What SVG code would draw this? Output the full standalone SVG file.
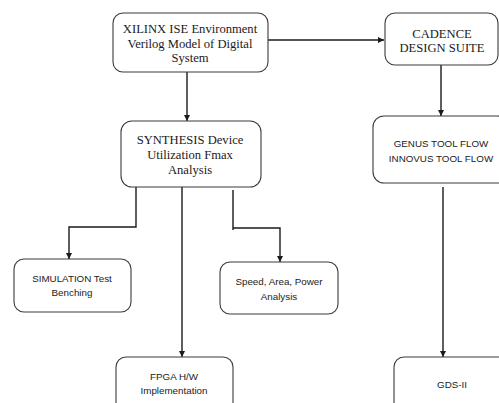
<svg xmlns="http://www.w3.org/2000/svg" width="499" height="403" viewBox="0 0 499 403">
<style>
.box{fill:#fff;stroke:#3a3a3a;stroke-width:1.1}
.serif{font-family:"Liberation Serif","Times New Roman",serif;font-size:12.6px;fill:#1a1a1a;text-anchor:middle}
.sans{font-family:"Liberation Sans",Arial,sans-serif;font-size:9.8px;fill:#222;text-anchor:middle}
.con{fill:none;stroke:#1a1a1a;stroke-width:1.4}
</style>
<defs>
<marker id="ah" viewBox="0 0 10 10" refX="10" refY="5" markerWidth="4.5" markerHeight="4.5" orient="auto" markerUnits="strokeWidth">
<path d="M0,0 L10,5 L0,10 z" fill="#1a1a1a"/>
</marker>
</defs>
<rect width="499" height="403" fill="#fff"/>
<g id="connectors">
<path class="con" d="M268,40 H384" marker-end="url(#ah)"/>
<path class="con" d="M187,72 V121" marker-end="url(#ah)"/>
<path class="con" d="M441,65 V116" stroke-width="1.1" marker-end="url(#ah)"/>
<path class="con" d="M136,187 V227 H69 V259" marker-end="url(#ah)"/>
<path class="con" d="M182,187 V357" marker-end="url(#ah)"/>
<path class="con" d="M233,190 V230 M233,228 H280 V262" marker-end="url(#ah)"/>
<path class="con" d="M443,187 V357" marker-end="url(#ah)"/>
</g>
<g id="xilinx">
<rect class="box" x="113" y="13" width="155" height="59" rx="10"/>
<text class="serif" x="190" y="33">XILINX ISE Environment</text>
<text class="serif" x="190" y="47.5">Verilog Model of Digital</text>
<text class="serif" x="190" y="62">System</text>
</g>
<g id="cadence">
<rect class="box" x="385" y="13" width="113" height="52" rx="10"/>
<text class="serif" x="442" y="38">CADENCE</text>
<text class="serif" x="442" y="52">DESIGN SUITE</text>
</g>
<g id="synthesis">
<rect class="box" x="121" y="121" width="140" height="66" rx="11"/>
<text class="serif" x="190" y="144">SYNTHESIS Device</text>
<text class="serif" x="190" y="159">Utilization Fmax</text>
<text class="serif" x="190" y="174">Analysis</text>
</g>
<g id="genus">
<rect class="box" x="373" y="116" width="135" height="67" rx="11"/>
<text class="sans" x="441" y="147">GENUS TOOL FLOW</text>
<text class="sans" x="441" y="162">INNOVUS TOOL FLOW</text>
</g>
<g id="simulation">
<rect class="box" x="14" y="259" width="117" height="53" rx="10"/>
<text class="sans" x="72" y="282">SIMULATION Test</text>
<text class="sans" x="72" y="296">Benching</text>
</g>
<g id="speed">
<rect class="box" x="220" y="262" width="118" height="52" rx="10"/>
<text class="sans" x="279" y="285">Speed, Area, Power</text>
<text class="sans" x="279" y="300">Analysis</text>
</g>
<g id="fpga">
<rect class="box" x="116" y="357" width="117" height="60" rx="10"/>
<text class="sans" x="174" y="380">FPGA H/W</text>
<text class="sans" x="174" y="394">Implementation</text>
</g>
<g id="gds">
<rect class="box" x="394" y="357" width="120" height="60" rx="10"/>
<text class="sans" x="452" y="388">GDS-II</text>
</g>
</svg>
